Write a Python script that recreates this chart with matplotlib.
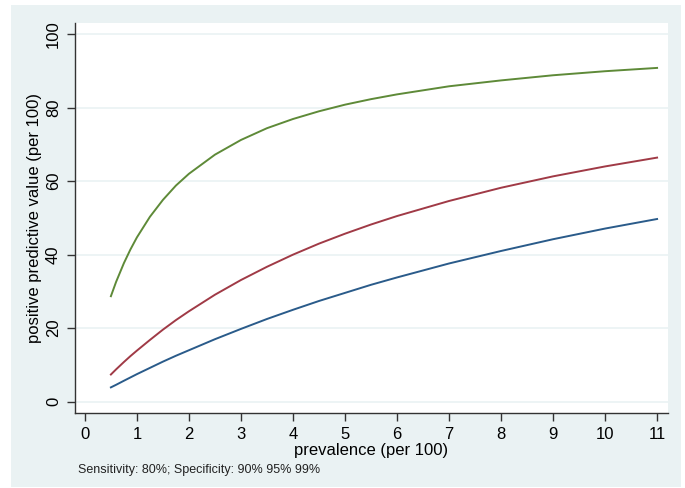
import matplotlib
matplotlib.use('Agg')
import matplotlib.pyplot as plt
from matplotlib.patches import Rectangle

plt.rcParams['font.family'] = ['Liberation Sans', 'DejaVu Sans']

# prevalence (per 100) and PPV (per 100)
prev = [0.5, 0.6, 0.75, 0.875, 1, 1.25, 1.5, 1.75, 2, 2.5, 3, 3.5, 4, 4.5, 5, 5.5,
        6, 7, 8, 9, 10, 11]
ppv_spec90 = [3.9, 4.6, 5.7, 6.6, 7.5, 9.2, 10.9, 12.5, 14.0, 17.0, 19.8, 22.5, 25.0,
              27.4, 29.6, 31.8, 33.8, 37.6, 41.0, 44.2, 47.1, 49.7]
ppv_spec95 = [7.4, 8.8, 10.8, 12.4, 13.9, 16.8, 19.6, 22.2, 24.6, 29.1, 33.1, 36.7,
              40.0, 43.0, 45.7, 48.2, 50.5, 54.6, 58.2, 61.3, 64.0, 66.4]
ppv_spec99 = [28.7, 32.6, 37.7, 41.4, 44.7, 50.3, 54.9, 58.8, 62.0, 67.2, 71.2, 74.4,
              76.9, 79.0, 80.8, 82.3, 83.6, 85.8, 87.4, 88.8, 89.9, 90.8]

xticks = list(range(0, 12))
yticks = [0, 20, 40, 60, 80, 100]

bg = '#EAF2F3'
fig = plt.figure(figsize=(6.85, 4.88), dpi=100, facecolor='white')
fig.add_artist(Rectangle((11 / 685, 1 - 487 / 488), 670 / 685, 482 / 488,
                         transform=fig.transFigure, facecolor=bg,
                         edgecolor='none', zorder=-10))

ax = fig.add_axes([0.1095, 0.1537, 0.8657, 0.7998])
ax.set_zorder(1)
ax.set_facecolor('white')
ax.plot(prev, ppv_spec90, color='#2A5B8A', lw=1.4)
ax.plot(prev, ppv_spec95, color='#A03A46', lw=1.4)
ax.plot(prev, ppv_spec99, color='#5E8A38', lw=1.4)

ax.set_xlim(-0.19, 11.21)
ax.set_ylim(-3.07, 103.1)
ax.set_xticks(xticks)
ax.set_yticks(yticks)
ax.grid(axis='y', color=bg, lw=1.2)
ax.set_axisbelow(True)
for s in ['top', 'right']:
    ax.spines[s].set_visible(False)
for s in ['left', 'bottom']:
    ax.spines[s].set_color('#333333')
    ax.spines[s].set_linewidth(1.0)
ax.tick_params(direction='out', length=6, width=1, color='#333333',
               labelsize=12, labelcolor='black', pad=4)
for lab in ax.get_yticklabels():
    lab.set_rotation(90)
    lab.set_va('center')

ax.set_xlabel('prevalence (per 100)', fontsize=12, labelpad=1)
ax.set_ylabel('positive predictive value (per 100)', fontsize=12, labelpad=3)
fig.text(78 / 685, 1 - 470 / 488, 'Sensitivity: 80%; Specificity: 90% 95% 99%',
         fontsize=9, va='center', ha='left', color='#222222')

plt.savefig('out.png', dpi=100, facecolor=fig.get_facecolor())
